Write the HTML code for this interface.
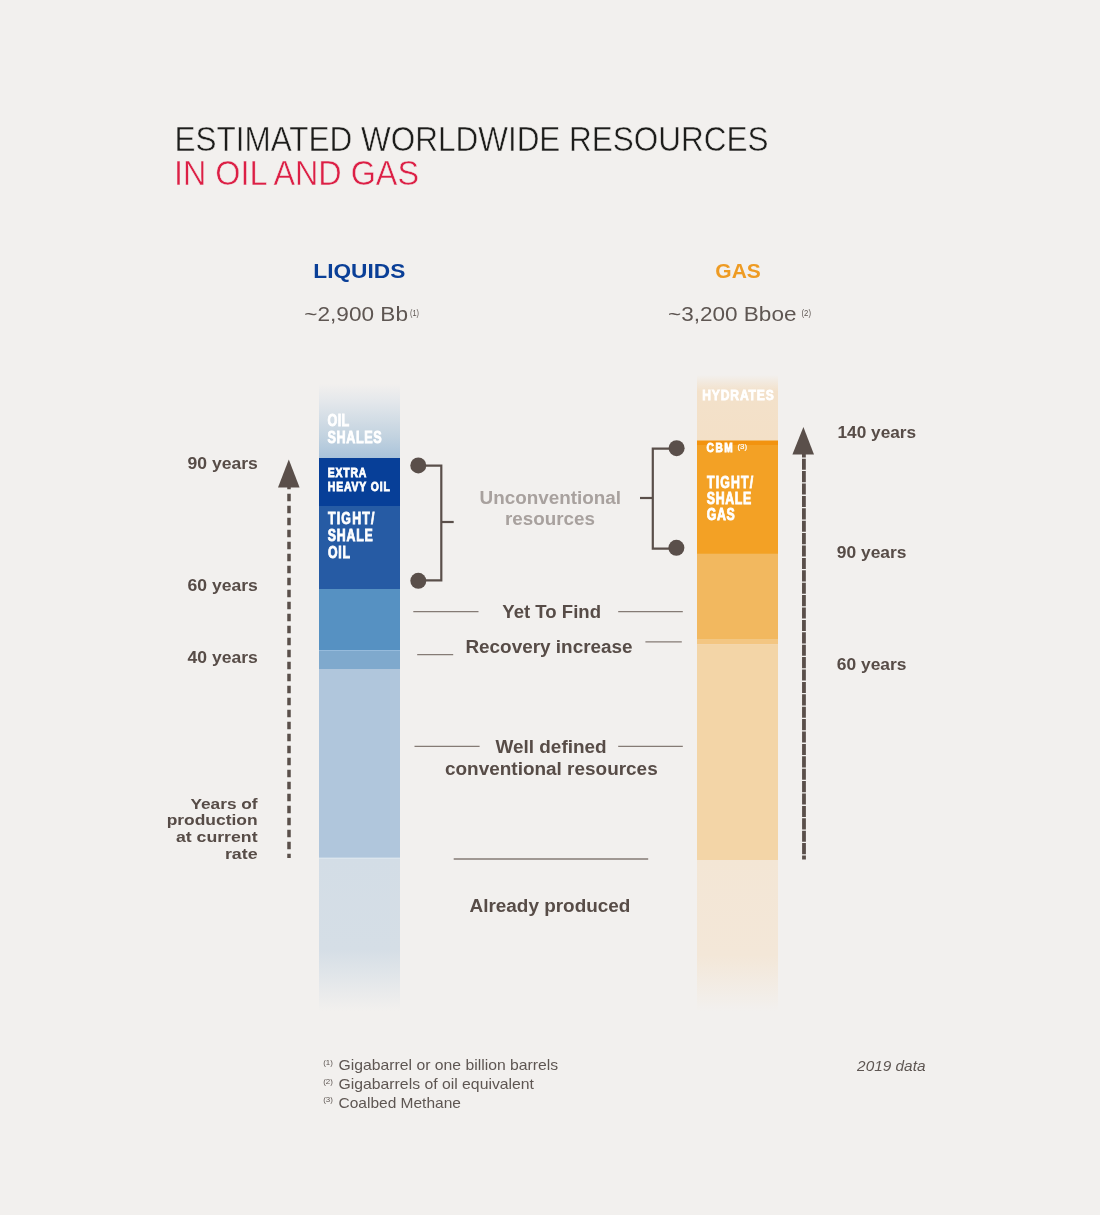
<!DOCTYPE html>
<html lang="en">
<head>
<meta charset="utf-8">
<title>Estimated worldwide resources in oil and gas</title>
<style>
html,body{margin:0;padding:0;background:#f2f0ee;}
body{width:1100px;height:1215px;overflow:hidden;}
svg{display:block;}
text{font-family:"Liberation Sans",sans-serif;}
.b{font-weight:bold;}
.dk{fill:#574c47;}
.wh{fill:#ffffff;font-weight:bold;stroke:#ffffff;stroke-width:0.75px;}
.wh text{vector-effect:non-scaling-stroke;}
</style>
</head>
<body>
<svg width="1100" height="1215" viewBox="0 0 1100 1215">
<defs>
<linearGradient id="gLiqTop" x1="0" y1="0" x2="0" y2="1">
<stop offset="0" stop-color="#f2f0ee"/>
<stop offset="0.25" stop-color="#e3e7eb"/>
<stop offset="0.7" stop-color="#c3d3e0"/>
<stop offset="1" stop-color="#a9c3da"/>
</linearGradient>
<linearGradient id="gLiqBot" x1="0" y1="0" x2="0" y2="1">
<stop offset="0" stop-color="#d3dde6"/>
<stop offset="0.6" stop-color="#d5dee6"/>
<stop offset="1" stop-color="#f2f0ee"/>
</linearGradient>
<linearGradient id="gGasTop" x1="0" y1="0" x2="0" y2="1">
<stop offset="0" stop-color="#f2f0ee"/>
<stop offset="0.25" stop-color="#f3e1ca"/>
<stop offset="1" stop-color="#f3e0c7"/>
</linearGradient>
<linearGradient id="gGasBot" x1="0" y1="0" x2="0" y2="1">
<stop offset="0" stop-color="#f3e6d5"/>
<stop offset="0.63" stop-color="#f3e7d8"/>
<stop offset="1" stop-color="#f2f0ee"/>
</linearGradient>
</defs>
<rect width="1100" height="1215" fill="#f2f0ee"/>

<!-- title -->
<text x="174.500" y="151" font-size="34.500" fill="#1d1d1b" textLength="594" lengthAdjust="spacingAndGlyphs" stroke="#f2f0ee" stroke-width="0.5">ESTIMATED WORLDWIDE RESOURCES</text>
<text x="174" y="185" font-size="34.500" fill="#dc1f45" textLength="245" lengthAdjust="spacingAndGlyphs" stroke="#f2f0ee" stroke-width="0.5">IN OIL AND GAS</text>

<!-- column headings -->
<text class="b" x="313.300" y="278.400" font-size="20" fill="#0a3f97" textLength="92" lengthAdjust="spacingAndGlyphs">LIQUIDS</text>
<text x="304.300" y="320.800" font-size="20.500" fill="#5e5652" textLength="103.700" lengthAdjust="spacingAndGlyphs">~2,900 Bb</text>
<text x="410" y="315.600" font-size="8.500" fill="#5e5652" textLength="9" lengthAdjust="spacingAndGlyphs">(1)</text>
<text class="b" x="715.300" y="278.400" font-size="20" fill="#ee9b23" textLength="45.500" lengthAdjust="spacingAndGlyphs">GAS</text>
<text x="668" y="320.800" font-size="20.500" fill="#5e5652" textLength="128.500" lengthAdjust="spacingAndGlyphs">~3,200 Bboe</text>
<text x="801.500" y="315.600" font-size="8.500" fill="#5e5652" textLength="9.500" lengthAdjust="spacingAndGlyphs">(2)</text>

<!-- liquids bar -->
<rect x="319" y="384" width="81" height="74" fill="url(#gLiqTop)"/>
<rect x="319" y="458" width="81" height="48" fill="#073f98"/>
<rect x="319" y="506" width="81" height="83" fill="#265ba4"/>
<rect x="319" y="589" width="81" height="61" fill="#5691c2"/>
<rect x="319" y="650" width="81" height="19" fill="#7fa9cd"/>
<rect x="319" y="669" width="81" height="189" fill="#b0c6dc"/>
<rect x="319" y="858" width="81" height="153" fill="url(#gLiqBot)"/>
<rect x="319" y="650" width="81" height="1" fill="#96bbdc"/>
<rect x="319" y="857.600" width="81" height="1.200" fill="#dde7ef"/>

<!-- gas bar -->
<rect x="697" y="375" width="81" height="66" fill="url(#gGasTop)"/>
<rect x="697" y="440.500" width="81" height="5" fill="#f2930f"/>
<rect x="697" y="445" width="81" height="109" fill="#f3a125"/>
<rect x="697" y="553.700" width="81" height="86" fill="#f2b85f"/>
<rect x="697" y="639.300" width="81" height="5.200" fill="#f3c682"/>
<rect x="697" y="644.300" width="81" height="216" fill="#f3d5a7"/>
<rect x="697" y="860" width="81" height="151" fill="url(#gGasBot)"/>

<!-- bar labels -->
<g class="wh">
<text transform="translate(327.6 425.6) scale(0.78 1)" font-size="16.2" textLength="27.6" lengthAdjust="spacing">OIL</text>
<text transform="translate(327.6 442.5) scale(0.78 1)" font-size="16.2" textLength="69.2" lengthAdjust="spacing">SHALES</text>
<text transform="translate(327.8 477.0) scale(0.84 1)" font-size="12.4" textLength="45.9" lengthAdjust="spacing">EXTRA</text>
<text transform="translate(327.8 491.0) scale(0.84 1)" font-size="12.4" textLength="73.8" lengthAdjust="spacing">HEAVY OIL</text>
<text transform="translate(328.0 524.4) scale(0.79 1)" font-size="15.6" textLength="58.8" lengthAdjust="spacing">TIGHT/</text>
<text transform="translate(327.8 541.3) scale(0.79 1)" font-size="15.6" textLength="57.0" lengthAdjust="spacing">SHALE</text>
<text transform="translate(328.0 558.3) scale(0.79 1)" font-size="15.6" textLength="27.9" lengthAdjust="spacing">OIL</text>

<text transform="translate(702.3 400.1) scale(0.84 1)" font-size="14.4" textLength="85.1" lengthAdjust="spacing">HYDRATES</text>
<text transform="translate(706.5 452.4) scale(0.84 1)" font-size="12.1" textLength="31.3" lengthAdjust="spacing">CBM</text>
<text x="737.500" y="449.300" font-size="7.800" textLength="9.600" lengthAdjust="spacingAndGlyphs" style="font-weight:normal;stroke-width:0.2px">(3)</text>
<text transform="translate(707.0 487.6) scale(0.79 1)" font-size="15.6" textLength="58.3" lengthAdjust="spacing">TIGHT/</text>
<text transform="translate(706.7 503.5) scale(0.79 1)" font-size="15.6" textLength="56.5" lengthAdjust="spacing">SHALE</text>
<text transform="translate(706.7 520.3) scale(0.79 1)" font-size="15.6" textLength="35.5" lengthAdjust="spacing">GAS</text>
</g>

<!-- brackets -->
<g fill="none" stroke="#5a4f4a" stroke-width="2.200">
<path d="M418.300 465.700H441.300V580.300H418.300"/>
<path d="M441.300 522H453.700"/>
<path d="M676.500 448.600H652.800V548.600H676.500"/>
<path d="M652.800 498H640"/>
</g>
<g fill="#5a4f4a">
<circle cx="418.300" cy="465.400" r="8"/>
<circle cx="418.300" cy="580.800" r="8"/>
<circle cx="676.600" cy="448.200" r="8"/>
<circle cx="676.400" cy="547.800" r="8"/>
</g>

<!-- thin rule lines -->
<g stroke="#857b75" stroke-width="1.300" fill="none">
<path d="M413.300 611.600H478.500M618.200 611.600H682.800"/>
<path d="M417.200 654.600H453.200M645.400 641.800H681.800"/>
<path d="M414.500 746.300H479.600M618.200 746.300H682.800"/>
<path d="M453.700 859H648.200"/>
</g>

<!-- centre labels -->
<g class="b" font-size="18">
<text x="479.600" y="503.800" fill="#a8a19e" textLength="141.500" lengthAdjust="spacingAndGlyphs">Unconventional</text>
<text x="505" y="525.400" fill="#a8a19e" textLength="90" lengthAdjust="spacingAndGlyphs">resources</text>
<text class="dk" x="502.300" y="618.200" textLength="98.700" lengthAdjust="spacingAndGlyphs">Yet To Find</text>
<text class="dk" x="465.400" y="653.100" textLength="167.200" lengthAdjust="spacingAndGlyphs">Recovery increase</text>
<text class="dk" x="495.400" y="752.600" textLength="111.300" lengthAdjust="spacingAndGlyphs">Well defined</text>
<text class="dk" x="445" y="774.700" textLength="212.700" lengthAdjust="spacingAndGlyphs">conventional resources</text>
<text class="dk" x="469.500" y="911.900" textLength="160.900" lengthAdjust="spacingAndGlyphs">Already produced</text>
</g>

<!-- year labels -->
<g class="b dk" font-size="15.600">
<text x="187.500" y="469" textLength="70.300" lengthAdjust="spacingAndGlyphs">90 years</text>
<text x="187.500" y="590.500" textLength="70.300" lengthAdjust="spacingAndGlyphs">60 years</text>
<text x="187.500" y="662.800" textLength="70.300" lengthAdjust="spacingAndGlyphs">40 years</text>
<text x="837.500" y="438.100" textLength="78.600" lengthAdjust="spacingAndGlyphs">140 years</text>
<text x="836.800" y="558" textLength="69.700" lengthAdjust="spacingAndGlyphs">90 years</text>
<text x="836.800" y="670" textLength="69.700" lengthAdjust="spacingAndGlyphs">60 years</text>
<text x="190.400" y="808.800" font-size="15.200" textLength="67.200" lengthAdjust="spacingAndGlyphs">Years of</text>
<text x="166.700" y="825.200" font-size="15.200" textLength="90.900" lengthAdjust="spacingAndGlyphs">production</text>
<text x="175.900" y="841.900" font-size="15.200" textLength="81.700" lengthAdjust="spacingAndGlyphs">at current</text>
<text x="224.900" y="858.600" font-size="15.200" textLength="32.700" lengthAdjust="spacingAndGlyphs">rate</text>
</g>

<!-- arrows -->
<g fill="#5a4f4a">
<path d="M288.800 459.500L299.600 487.400H278L288.800 459.500Z"/>
<path d="M803.400 427L814 454.600H792.400L803.400 427Z"/>
</g>
<path d="M289 486V858" stroke="#5a4f4a" stroke-width="3.500" stroke-dasharray="7.600 4.400" stroke-dashoffset="4.300" fill="none"/>
<path d="M803.900 454L804 859.500" stroke="#5a4f4a" stroke-width="3.800" stroke-dasharray="11.100 1.300" stroke-dashoffset="7.700" fill="none"/>

<!-- footnotes -->
<g fill="#5e5652">
<text x="323.200" y="1064.600" font-size="7.800" textLength="9.700" lengthAdjust="spacingAndGlyphs">(1)</text>
<text x="338.500" y="1070.200" font-size="14.500" textLength="219.700" lengthAdjust="spacingAndGlyphs">Gigabarrel or one billion barrels</text>
<text x="323.200" y="1083.500" font-size="7.800" textLength="9.700" lengthAdjust="spacingAndGlyphs">(2)</text>
<text x="338.500" y="1089" font-size="14.500" textLength="195.500" lengthAdjust="spacingAndGlyphs">Gigabarrels of oil equivalent</text>
<text x="323.200" y="1102.400" font-size="7.800" textLength="9.700" lengthAdjust="spacingAndGlyphs">(3)</text>
<text x="338.500" y="1107.900" font-size="14.500" textLength="122.400" lengthAdjust="spacingAndGlyphs">Coalbed Methane</text>
<text x="857.100" y="1070.700" font-size="14" font-style="italic" textLength="68.400" lengthAdjust="spacingAndGlyphs">2019 data</text>
</g>
</svg>
</body>
</html>
